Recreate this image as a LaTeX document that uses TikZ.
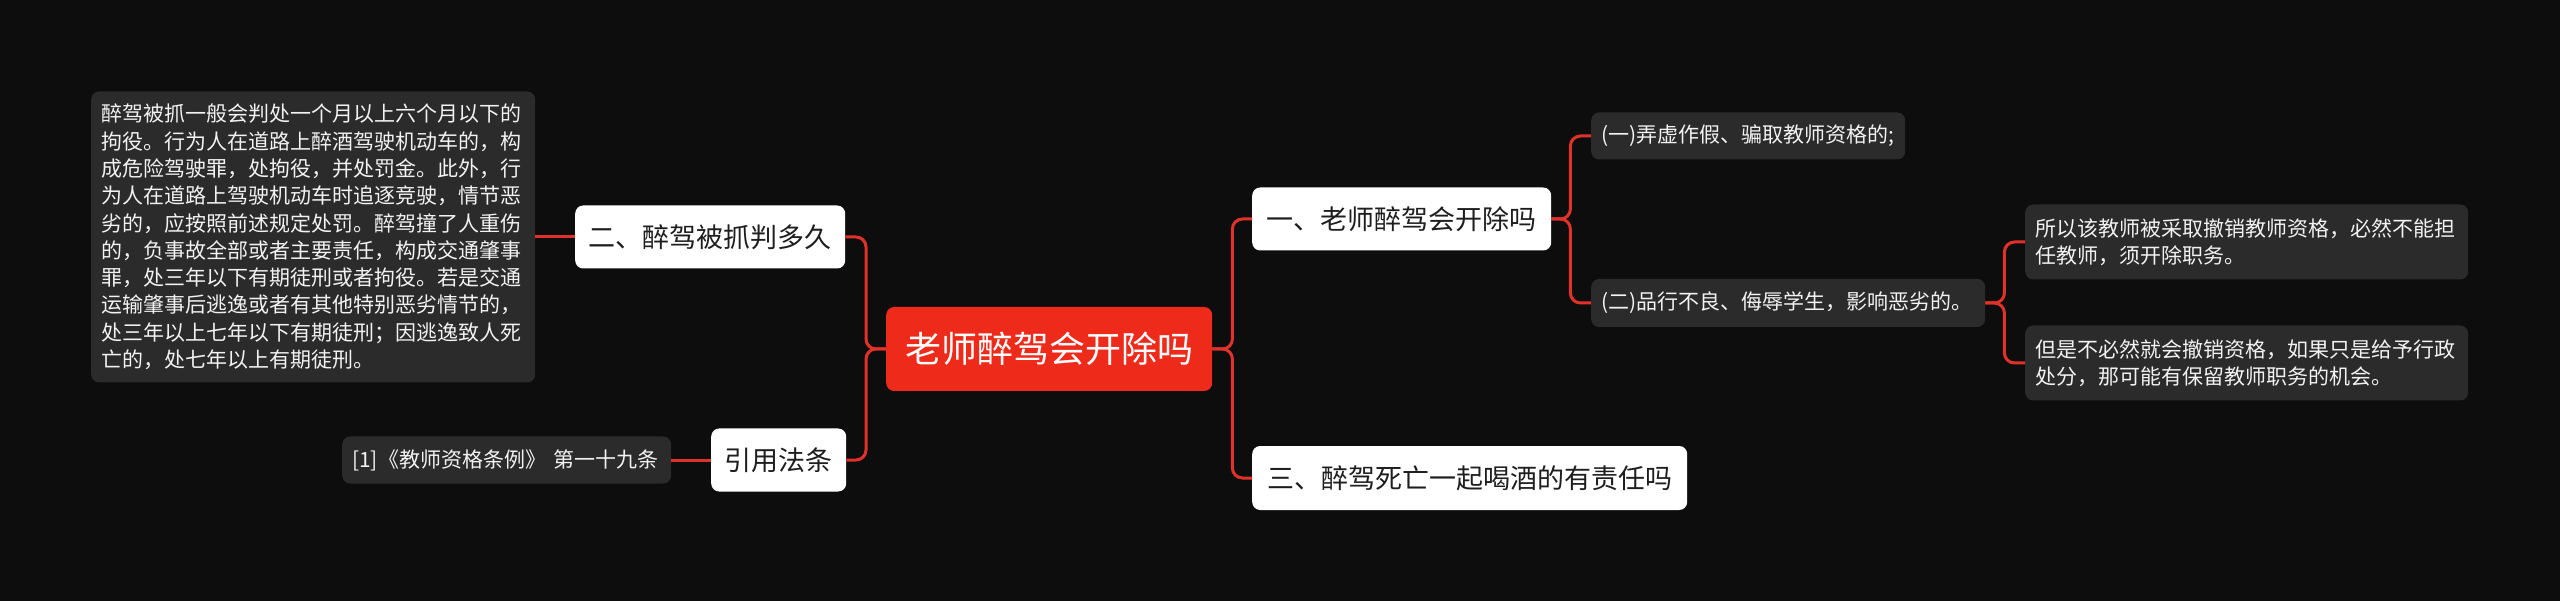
\documentclass[tikz,border=0pt]{standalone}
\usepackage{fontspec}
\setmainfont{Noto Sans CJK SC}
\definecolor{bg}{HTML}{0D0D0D}
\definecolor{redc}{HTML}{EE2B1B}
\definecolor{linec}{HTML}{E0322A}
\definecolor{boxg}{HTML}{2B2B2B}
\definecolor{darktext}{HTML}{1E1E1E}
\definecolor{lighttext}{HTML}{F2F2F2}
\begin{document}
\begin{tikzpicture}[x=1pt,y=-1pt,
 root/.style={fill=redc, rounded corners=8pt, text=white, font=\fontsize{36}{40}\selectfont, inner xsep=0pt, inner ysep=0pt, minimum height=84pt, align=center, anchor=west},
 topic/.style={fill=white, rounded corners=8pt, text=darktext, font=\fontsize{27}{32}\selectfont, inner xsep=0pt, inner ysep=0pt, minimum height=63pt, align=center, anchor=west},
 leaf/.style={fill=boxg, rounded corners=8pt, text=lighttext, font=\fontsize{21}{27.3}\selectfont, inner xsep=10pt, inner ysep=0pt, align=left, anchor=west},
 conn/.style={draw=linec, line width=3pt, rounded corners=10pt}]
\useasboundingbox (0,0) rectangle (2560,601);
\fill[bg] (0,0) rectangle (2560,601);

\node[root, text width=326pt] (c) at (886,349) {老师醉驾会开除吗};
\node[topic, text width=270pt] (t2) at (575,237) {二、醉驾被抓判多久};
\node[topic, text width=135pt] (t4) at (711,460) {引用法条};
\node[topic, text width=299pt] (t1) at (1252,219) {一、老师醉驾会开除吗};
\node[topic, text width=435pt, minimum height=64pt] (t3) at (1252,478) {三、醉驾死亡一起喝酒的有责任吗};

\node[leaf, text width=424pt, minimum height=291pt] (big) at (91,237) {醉驾被抓一般会判处一个月以上六个月以下的\\拘役。行为人在道路上醉酒驾驶机动车的，构\\成危险驾驶罪，处拘役，并处罚金。此外，行\\为人在道路上驾驶机动车时追逐竞驶，情节恶\\劣的，应按照前述规定处罚。醉驾撞了人重伤\\的，负事故全部或者主要责任，构成交通肇事\\罪，处三年以下有期徒刑或者拘役。若是交通\\运输肇事后逃逸或者有其他特别恶劣情节的，\\处三年以上七年以下有期徒刑；因逃逸致人死\\亡的，处七年以上有期徒刑。};
\node[leaf, text width=309pt, minimum height=47pt] (ref) at (342,460) {\mbox{[1]《教师资格条例》 第一十九条}};
\node[leaf, text width=294pt, minimum height=47pt] (l1) at (1591,136) {\mbox{(一)弄虚作假、骗取教师资格的;}};
\node[leaf, text width=374pt, minimum height=48pt] (l2) at (1591,303) {\mbox{(二)品行不良、侮辱学生，影响恶劣的。}};
\node[leaf, text width=423pt, minimum height=75pt] (l3) at (2025,242) {所以该教师被采取撤销教师资格，必然不能担\\任教师，须开除职务。};
\node[leaf, text width=423pt, minimum height=75pt] (l4) at (2025,363) {但是不必然就会撤销资格，如果只是给予行政\\处分，那可能有保留教师职务的机会。};

\draw[conn] (c.east) -- ++(20,0) |- (t1.west);
\draw[conn] (c.east) -- ++(20,0) |- (t3.west);
\draw[conn] (c.west) -- ++(-20,0) |- (t2.east);
\draw[conn] (c.west) -- ++(-20,0) |- (t4.east);
\draw[conn] (t1.east) -- ++(19,0) |- (l1.west);
\draw[conn] (t1.east) -- ++(19,0) |- (l2.west);
\draw[conn] (l2.east) -- ++(19,0) |- (l3.west);
\draw[conn] (l2.east) -- ++(19,0) |- (l4.west);
\draw[conn] (t2.west) -- (big.east);
\draw[conn] (t4.west) -- (ref.east);
\end{tikzpicture}
\end{document}
